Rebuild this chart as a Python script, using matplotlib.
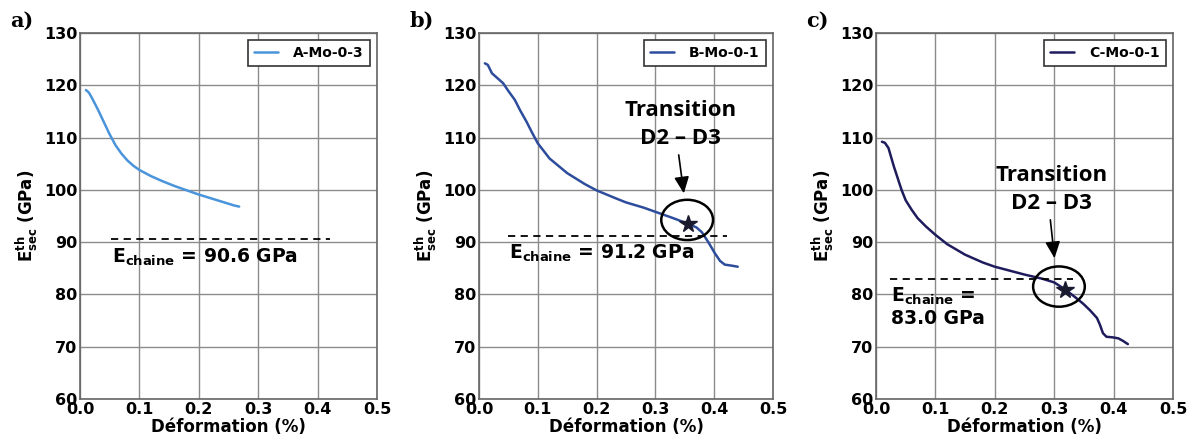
import matplotlib
matplotlib.use("Agg")
import matplotlib.pyplot as plt
from matplotlib.patches import Ellipse

plt.rcParams['mathtext.fontset'] = 'dejavusans'
plt.rcParams['font.family'] = ['DejaVu Sans']

# ---- data ----
xa = [0.010, 0.015, 0.020, 0.030, 0.040, 0.050, 0.060, 0.070, 0.080, 0.090, 0.100,
      0.120, 0.140, 0.160, 0.180, 0.200, 0.220, 0.240, 0.260, 0.268]
ya = [119.1, 118.6, 117.6, 115.4, 113.0, 110.6, 108.5, 106.9, 105.6, 104.6, 103.8,
      102.6, 101.6, 100.7, 99.9, 99.1, 98.4, 97.7, 97.0, 96.8]

xb = [0.010, 0.015, 0.022, 0.030, 0.041, 0.050, 0.061, 0.070, 0.081, 0.090, 0.100,
      0.120, 0.150, 0.180, 0.200, 0.230, 0.250, 0.280, 0.300, 0.330, 0.356,
      0.370, 0.379, 0.390, 0.401, 0.410, 0.418, 0.430, 0.440]
yb = [124.2, 123.9, 122.3, 121.5, 120.4, 118.9, 117.2, 115.2, 113.0, 111.0, 108.9,
      106.0, 103.2, 101.1, 99.9, 98.5, 97.6, 96.6, 95.8, 94.6, 93.5,
      92.8, 91.9, 90.0, 87.9, 86.4, 85.7, 85.5, 85.3]

xc = [0.010, 0.015, 0.021, 0.030, 0.043, 0.050, 0.060, 0.070, 0.084, 0.100, 0.120,
      0.150, 0.180, 0.200, 0.230, 0.250, 0.280, 0.300, 0.319, 0.335, 0.349,
      0.360, 0.372, 0.377, 0.382, 0.388, 0.398, 0.408, 0.416, 0.424]
yc = [109.2, 109.0, 108.0, 104.5, 100.0, 98.0, 96.2, 94.6, 93.0, 91.4, 89.6,
      87.6, 86.1, 85.3, 84.4, 83.8, 83.0, 82.3, 80.9, 79.5, 78.2,
      77.0, 75.5, 74.2, 72.6, 71.9, 71.8, 71.6, 71.1, 70.5]

labels = ["A-Mo-0-3", "B-Mo-0-1", "C-Mo-0-1"]
colors = ["#4a94db", "#2d4d9c", "#1f1c5e"]
panel_tags = ["a)", "b)", "c)"]

e_chaine = [90.6, 91.2, 83.0]
dash_x = [(0.052, 0.421), (0.049, 0.421), (0.024, 0.332)]
star_pts = [None, (0.356, 93.5), (0.319, 80.9)]
ellipses = [None, (0.354, 94.25, 0.088, 7.7), (0.308, 81.5, 0.087, 7.7)]
arrows = [None, ((0.339, 107.2), (0.349, 98.8)), ((0.293, 94.8), (0.301, 86.4))]
trans_xy = [None, (0.343, 112.5), (0.296, 100.0)]

xticks = [0.0, 0.1, 0.2, 0.3, 0.4, 0.5]
yticks = [60, 70, 80, 90, 100, 110, 120, 130]

fig = plt.figure(figsize=(11.93, 4.43), dpi=100)
H = 443.0
W = 1193.0
lefts = [80, 479, 876]
widths = [297, 294, 297]
top_px, bot_px = 33, 399

series = [(xa, ya), (xb, yb), (xc, yc)]
for i in range(3):
    ax = fig.add_axes([lefts[i] / W, 1 - bot_px / H, widths[i] / W, (bot_px - top_px) / H])
    x, y = series[i]
    ax.plot(x, y, color=colors[i], lw=1.8, label=labels[i], solid_capstyle='round')
    ax.set_xlim(0, 0.5)
    ax.set_ylim(60, 130)
    ax.set_xticks(xticks)
    ax.set_yticks(yticks)
    ax.set_xticklabels([f"{t:.1f}" for t in xticks])
    ax.grid(True, color="#8c8c8c", lw=1.0, ls='-')
    ax.tick_params(length=0, labelsize=11.5, pad=2)
    for lab in ax.get_xticklabels() + ax.get_yticklabels():
        lab.set_fontweight('bold')
    for sp in ax.spines.values():
        sp.set_color("#666666")
        sp.set_linewidth(1.2)
    ax.set_xlabel("Déformation (%)", fontsize=12, fontweight='bold', labelpad=1)
    ax.set_ylabel(r"$\mathbf{E^{th}_{sec}}$ (GPa)", fontsize=12, fontweight='bold', labelpad=3)

    # chain modulus dashed line
    ax.plot(list(dash_x[i]), [e_chaine[i], e_chaine[i]], color='black', lw=1.3,
            ls=(0, (4, 3)))
    if i < 2:
        ax.text(dash_x[i][0] + 0.002, e_chaine[i] - 1.4,
                r"$\mathbf{E_{chaine}}$" + f" = {e_chaine[i]:.1f} GPa",
                fontsize=13.5, fontweight='bold', ha='left', va='top')
    else:
        ax.text(0.026, e_chaine[i] - 1.3,
                r"$\mathbf{E_{chaine}}$" + " =\n" + f"{e_chaine[i]:.1f} GPa",
                fontsize=13.5, fontweight='bold', ha='left', va='top', linespacing=1.15)

    if star_pts[i] is not None:
        ax.plot([star_pts[i][0]], [star_pts[i][1]], marker='*', ms=13, color='#1a1a2e',
                mec='#1a1a2e', zorder=5)
        cx, cy, ew, eh = ellipses[i]
        ax.add_patch(Ellipse((cx, cy), ew, eh, fill=False, ec='black', lw=1.8, zorder=6))
        (x0, y0), (x1, y1) = arrows[i]
        ax.annotate("", xy=(x1, y1), xytext=(x0, y0),
                    arrowprops=dict(arrowstyle='-|>,head_width=0.45,head_length=1.0',
                                    color='black', lw=1.2))
        ax.text(trans_xy[i][0], trans_xy[i][1], "Transition\nD2 \u2013 D3",
                fontsize=16, family=['Open Sans', 'DejaVu Sans'], fontweight='bold',
                ha='center', va='center', linespacing=1.45)

    leg = ax.legend(loc='upper right', prop=dict(size=10, weight='bold'),
                    fancybox=False, framealpha=1, edgecolor='#333333',
                    handlelength=1.7, handletextpad=1.1, borderpad=0.45,
                    borderaxespad=0.5)
    leg.get_frame().set_linewidth(1.2)

    fig.text((lefts[i] - 70) / W, 1 - 27 / H, panel_tags[i], fontsize=15,
             fontweight='bold', family=['DejaVu Serif'], ha='left', va='baseline')

fig.savefig("out.png", dpi=100)
